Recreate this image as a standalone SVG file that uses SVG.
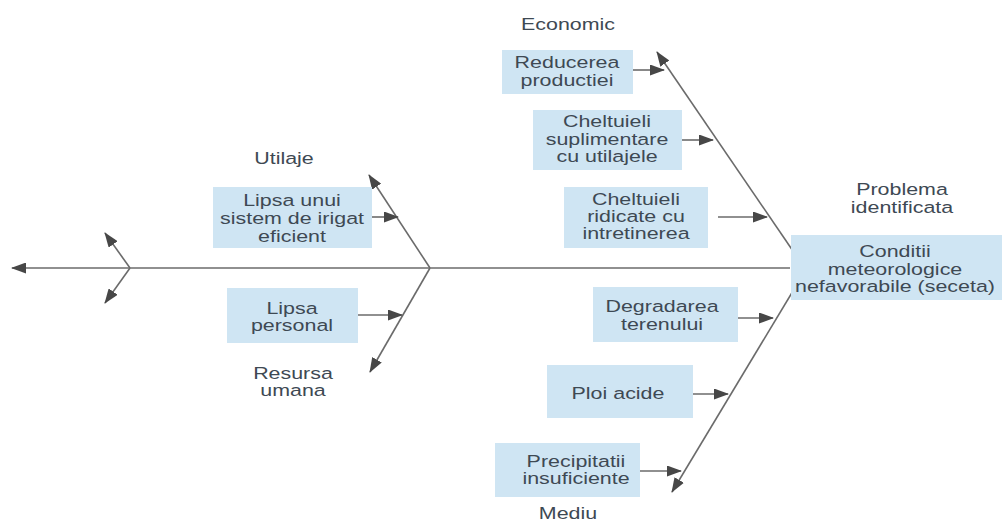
<svg xmlns="http://www.w3.org/2000/svg" width="1002" height="524" viewBox="0 0 1002 524">
<defs>
<style>
.box{fill:#cfe5f3;stroke:none}
.t{font-family:"Liberation Sans",Arial,sans-serif;font-size:17px;fill:#3e4953;text-anchor:middle}
.ln{stroke:#6b6b6b;stroke-width:1.6;fill:none}
.ar{marker-end:url(#ah)}
</style>
<marker id="ah" markerUnits="userSpaceOnUse" markerWidth="15" markerHeight="11" viewBox="0 0 15 11" refX="14" refY="5.5" orient="auto">
<path d="M0,0 L15,5.5 L0,11 z" fill="#474747"/>
</marker>
</defs>
<rect width="1002" height="524" fill="#ffffff"/>

<g id="connectors">
<line class="ln ar" x1="790" y1="268" x2="12" y2="268"/>
<line class="ln ar" x1="130" y1="268" x2="105" y2="233"/>
<line class="ln ar" x1="130" y1="268" x2="105" y2="303"/>
<line class="ln ar" x1="430" y1="268" x2="369" y2="175"/>
<line class="ln ar" x1="430" y1="268" x2="370" y2="372"/>
<line class="ln ar" x1="372" y1="217" x2="398" y2="217"/>
<line class="ln ar" x1="358" y1="315" x2="402" y2="315"/>
<line class="ln ar" x1="793" y1="251" x2="657" y2="52"/>
<line class="ln ar" x1="796" y1="286" x2="672" y2="492"/>
<line class="ln ar" x1="633" y1="70" x2="664" y2="70"/>
<line class="ln ar" x1="682" y1="140" x2="713" y2="140"/>
<line class="ln ar" x1="718" y1="217" x2="767" y2="217"/>
<line class="ln ar" x1="722" y1="318" x2="773" y2="318"/>
<line class="ln ar" x1="693" y1="394" x2="728" y2="394"/>
<line class="ln ar" x1="640" y1="471" x2="681" y2="471"/>
</g>

<g id="problem">
<rect class="box" x="791" y="235" width="211" height="65"/>
<text class="t" transform="translate(895 0) scale(1.26 1)"><tspan x="0" y="257">Conditii</tspan><tspan x="0" y="275">meteorologice</tspan><tspan x="0" y="292">nefavorabile (seceta)</tspan></text>
</g>
<g id="label-problema">
<text class="t" transform="translate(902 0) scale(1.26 1)"><tspan x="0" y="195">Problema</tspan><tspan x="0" y="213">identificata</tspan></text>
</g>

<g id="label-utilaje">
<text class="t" transform="translate(284 0) scale(1.26 1)"><tspan x="0" y="164">Utilaje</tspan></text>
</g>
<g id="label-resursa">
<text class="t" transform="translate(293 0) scale(1.26 1)"><tspan x="0" y="379">Resursa</tspan><tspan x="0" y="396">umana</tspan></text>
</g>
<g id="label-economic">
<text class="t" transform="translate(568 0) scale(1.26 1)"><tspan x="0" y="30">Economic</tspan></text>
</g>
<g id="label-mediu">
<text class="t" transform="translate(568 0) scale(1.26 1)"><tspan x="0" y="519">Mediu</tspan></text>
</g>

<g id="irigat">
<rect class="box" x="213" y="187" width="159" height="61"/>
<text class="t" transform="translate(292 0) scale(1.26 1)"><tspan x="0" y="206">Lipsa unui</tspan><tspan x="0" y="224">sistem de irigat</tspan><tspan x="0" y="242">eficient</tspan></text>
</g>
<g id="personal">
<rect class="box" x="227" y="288" width="131" height="55"/>
<text class="t" transform="translate(292 0) scale(1.26 1)"><tspan x="0" y="314">Lipsa</tspan><tspan x="0" y="331">personal</tspan></text>
</g>

<g id="reducerea">
<rect class="box" x="502" y="50" width="131" height="44"/>
<text class="t" transform="translate(567 0) scale(1.26 1)"><tspan x="0" y="68">Reducerea</tspan><tspan x="0" y="86">productiei</tspan></text>
</g>
<g id="suplimentare">
<rect class="box" x="533" y="110" width="149" height="60"/>
<text class="t" transform="translate(607 0) scale(1.26 1)"><tspan x="0" y="127">Cheltuieli</tspan><tspan x="0" y="145">suplimentare</tspan><tspan x="0" y="162">cu utilajele</tspan></text>
</g>
<g id="intretinerea">
<rect class="box" x="564" y="187" width="144" height="61"/>
<text class="t" transform="translate(636 0) scale(1.26 1)"><tspan x="0" y="205">Cheltuieli</tspan><tspan x="0" y="222">ridicate cu</tspan><tspan x="0" y="239">intretinerea</tspan></text>
</g>

<g id="degradarea">
<rect class="box" x="593" y="287" width="145" height="55"/>
<text class="t" transform="translate(662 0) scale(1.26 1)"><tspan x="0" y="312">Degradarea</tspan><tspan x="0" y="330">terenului</tspan></text>
</g>
<g id="ploi">
<rect class="box" x="547" y="365" width="146" height="53"/>
<text class="t" transform="translate(618 0) scale(1.26 1)"><tspan x="0" y="399">Ploi acide</tspan></text>
</g>
<g id="precipitatii">
<rect class="box" x="495" y="443" width="145" height="54"/>
<text class="t" transform="translate(576 0) scale(1.26 1)"><tspan x="0" y="467">Precipitatii</tspan><tspan x="0" y="484">insuficiente</tspan></text>
</g>
</svg>
